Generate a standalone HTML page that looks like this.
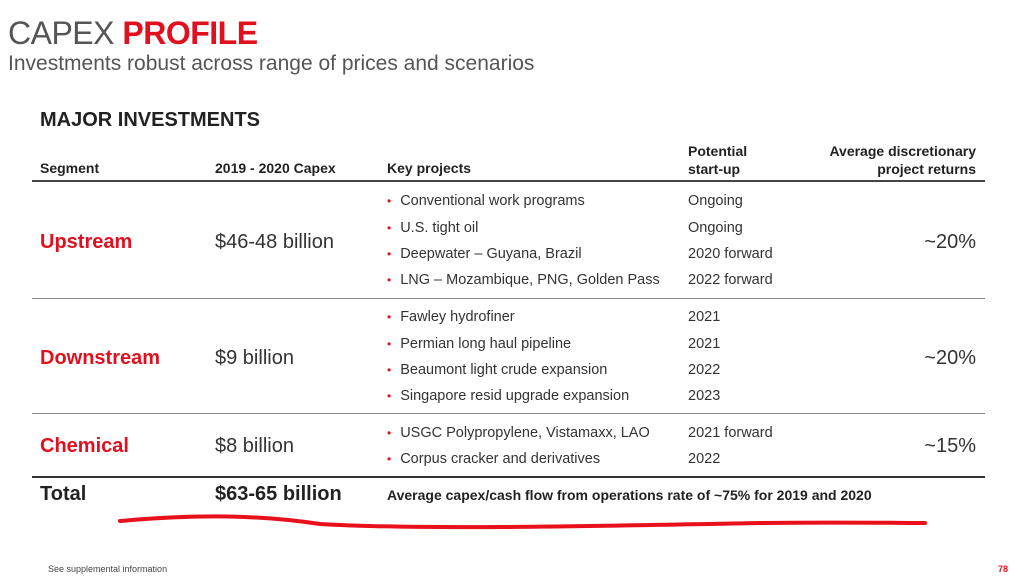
<!DOCTYPE html>
<html><head><meta charset="utf-8"><style>
body{margin:0;width:1024px;height:576px;background:#fff;font-family:"Liberation Sans",sans-serif;position:relative;overflow:hidden;color:#222}
.a{position:absolute;white-space:nowrap}
.red{color:#e0101e}
.hd{font-size:14px;font-weight:bold;color:#222}
.b{font-size:14.5px;color:#333}
.b:before{content:"•";color:#e0101e;margin-right:9px;font-size:12px}
.st{font-size:14.5px;color:#333}
.seg{font-size:20px;font-weight:bold;color:#e0101e}
.cap{font-size:20px;color:#333}
.ret{font-size:20px;color:#333;text-align:right;width:150px}
.ln{position:absolute;left:32px;width:953px}
#body{position:absolute;left:0;top:2px;width:1024px;height:540px}
</style></head><body>
<div class="a" style="left:8px;top:13px;font-size:32px;line-height:40px;color:#555;letter-spacing:-0.5px"><span style="font-weight:300">CAPEX</span> <span class="red" style="font-weight:bold">PROFILE</span></div>
<div class="a" style="left:8px;top:52px;font-size:21px;color:#555">Investments robust across range of prices and scenarios</div>
<div class="a" style="left:40px;top:109px;font-size:20px;font-weight:bold;color:#222">MAJOR INVESTMENTS</div>

<div class="a hd" style="left:40px;top:160px">Segment</div>
<div class="a hd" style="left:215px;top:160px">2019 - 2020 Capex</div>
<div class="a hd" style="left:387px;top:160px">Key projects</div>
<div class="a hd" style="left:688px;top:142px;line-height:18px">Potential<br>start-up</div>
<div class="a hd" style="left:776px;top:142px;line-height:18px;text-align:right;width:200px">Average discretionary<br>project returns</div>
<div class="ln" style="top:180px;height:2px;background:#444"></div>

<div id="body">
<div class="a seg" style="left:40px;top:229px">Upstream</div>
<div class="a cap" style="left:215px;top:229px">$46-48 billion</div>
<div class="a b" style="left:387px;top:191px">Conventional work programs</div>
<div class="a b" style="left:387px;top:218px">U.S. tight oil</div>
<div class="a b" style="left:387px;top:244px">Deepwater – Guyana, Brazil</div>
<div class="a b" style="left:387px;top:270px">LNG – Mozambique, PNG, Golden Pass</div>
<div class="a st" style="left:688px;top:191px">Ongoing</div>
<div class="a st" style="left:688px;top:218px">Ongoing</div>
<div class="a st" style="left:688px;top:244px">2020 forward</div>
<div class="a st" style="left:688px;top:270px">2022 forward</div>
<div class="a ret" style="left:826px;top:229px">~20%</div>
<div class="ln" style="top:296px;height:1px;background:#888"></div>

<div class="a seg" style="left:40px;top:345px">Downstream</div>
<div class="a cap" style="left:215px;top:345px">$9 billion</div>
<div class="a b" style="left:387px;top:307px">Fawley hydrofiner</div>
<div class="a b" style="left:387px;top:334px">Permian long haul pipeline</div>
<div class="a b" style="left:387px;top:360px">Beaumont light crude expansion</div>
<div class="a b" style="left:387px;top:386px">Singapore resid upgrade expansion</div>
<div class="a st" style="left:688px;top:307px">2021</div>
<div class="a st" style="left:688px;top:334px">2021</div>
<div class="a st" style="left:688px;top:360px">2022</div>
<div class="a st" style="left:688px;top:386px">2023</div>
<div class="a ret" style="left:826px;top:345px">~20%</div>
<div class="ln" style="top:411px;height:1px;background:#888"></div>

<div class="a seg" style="left:40px;top:433px">Chemical</div>
<div class="a cap" style="left:215px;top:433px">$8 billion</div>
<div class="a b" style="left:387px;top:423px">USGC Polypropylene, Vistamaxx, LAO</div>
<div class="a b" style="left:387px;top:449px">Corpus cracker and derivatives</div>
<div class="a st" style="left:688px;top:423px">2021 forward</div>
<div class="a st" style="left:688px;top:449px">2022</div>
<div class="a ret" style="left:826px;top:433px">~15%</div>
<div class="ln" style="top:474px;height:2px;background:#333"></div>

<div class="a" style="left:40px;top:481px;font-size:20px;font-weight:bold;color:#222">Total</div>
<div class="a" style="left:215px;top:481px;font-size:20px;font-weight:bold;color:#222">$63-65 billion</div>
<div class="a" style="left:387px;top:485px;font-size:14px;font-weight:bold;color:#222">Average capex/cash flow from operations rate of ~75% for 2019 and 2020</div>
</div>

<svg class="a" style="left:0;top:0" width="1024" height="576"><path d="M120 521 C 200 514, 260 515, 320 524 C 420 530, 600 526, 760 523 C 840 522, 900 523, 925 523" stroke="#e8101a" stroke-width="4" fill="none" stroke-linecap="round"/></svg>

<div class="a" style="left:48px;top:564px;font-size:9px;color:#444">See supplemental information</div>
<div class="a red" style="left:998px;top:564px;font-size:9px;font-weight:bold">78</div>
</body></html>
